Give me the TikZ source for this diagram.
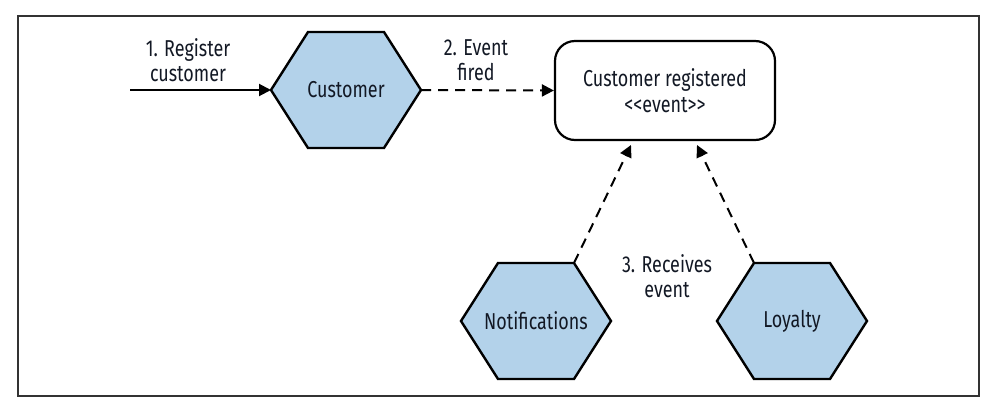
\documentclass[tikz,border=0pt]{standalone}
\usepackage{fontspec}
\setmainfont{Fira Sans}[FakeStretch=0.78]
\usetikzlibrary{arrows.meta,calc}
\definecolor{hexblue}{RGB}{179,210,234}
\definecolor{inkc}{RGB}{18,24,36}
\newcommand\hexnode[4]{%
  \draw[hexshape] (#2-75,#3) -- ++(37,-58) -- ++(76,0) -- ++(37,58) -- ++(-37,58) -- ++(-76,0) -- cycle;
  \node[hexlabel] (#1) at (#2,#3) {#4};
  \coordinate (#1-tl) at (#2-38,#3-58);
  \coordinate (#1-tr) at (#2+38,#3-58);
  \coordinate (#1-w) at (#2-75,#3);
  \coordinate (#1-e) at (#2+75,#3);
}
\begin{document}
\begin{tikzpicture}[x=1pt,y=-1pt,
  every node/.style={font=\fontsize{23}{24.5}\selectfont, text=inkc},
  hexshape/.style={draw=black, line width=2.4pt, fill=hexblue, line join=miter},
  hexlabel/.style={inner sep=0pt},
  eventbox/.style={draw=black, line width=2.2pt, rounded corners=20pt, minimum width=220pt, minimum height=99pt, align=center, fill=white},
  arr/.style={line width=2pt, -{Triangle[length=12pt,width=12pt]}},
  dasharr/.style={arr, dash pattern=on 10pt off 7pt},
  lbl/.style={align=center, inner sep=0pt}
]
\useasboundingbox (0,0) rectangle (996,410);
\draw[black!80, line width=1.2pt] (18,16) rectangle (979,396);

\hexnode{cust}{346}{90}{Customer}
\hexnode{notif}{536}{321}{Notifications}
\hexnode{loy}{792}{321}{Loyalty}

\node[eventbox] (ev) at (665,90.5) {Customer registered\\[1pt]<\kern0pt<event>\kern0pt>};

\coordinate (start) at (130,90);
\coordinate (evin1) at (631,145);
\coordinate (evin2) at (697,145);

\draw[arr] (start) -- (cust-w);
\draw[dasharr] (cust-e) -- (ev.west);
\draw[dasharr] (notif-tr) -- (evin1);
\draw[dasharr] (loy-tl) -- (evin2);

\node[lbl] (l1) at (188,60) {1. Register\\customer};
\node[lbl] (l2) at (476,60) {2. Event\\fired};
\node[lbl] (l3) at (667,276) {3. Receives\\event};
\end{tikzpicture}
\end{document}
